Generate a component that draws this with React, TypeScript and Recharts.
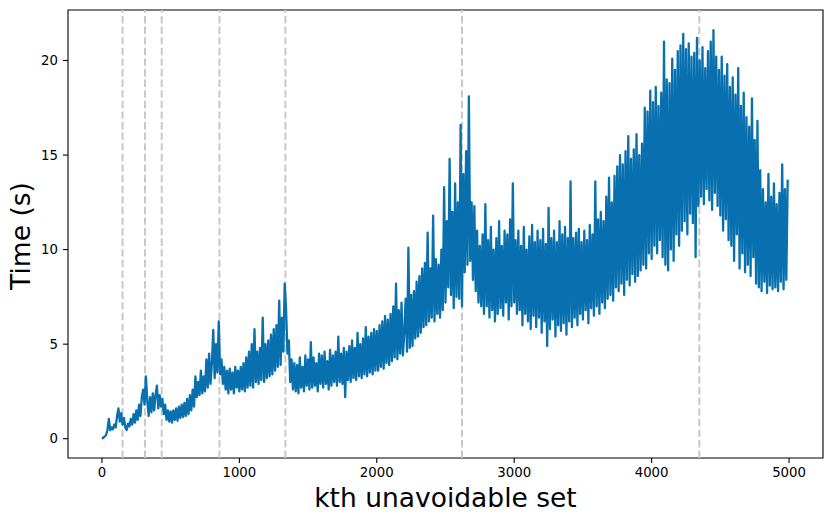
import { LineChart, Line, XAxis, YAxis, ReferenceLine, ReferenceArea } from "recharts";

// time (s) to find the kth unavoidable set, read every 10th k off the picture
const SAMPLE_STEP = 10;

const timesA = [
  0.0, 0.05, 0.12, 0.2, 0.45, 1.05, 0.45, 0.6, 0.5, 0.75,
  0.6, 1.2, 1.6, 0.9, 1.35, 0.75, 1.1, 0.6, 0.46, 0.8,
  0.65, 1.05, 0.75, 1.3, 0.85, 1.5, 1.0, 1.8, 1.2, 2.2,
  2.6, 1.8, 3.3, 2.0, 1.2, 2.2, 1.4, 2.4, 1.5, 2.3,
  2.8, 1.6, 2.3, 1.7, 2.1, 1.3, 1.8, 1.0, 1.5, 0.9,
  1.45, 0.85, 1.5, 1.0, 1.6, 0.95, 1.7, 1.1, 1.8, 1.15,
  1.9, 1.2, 2.1, 1.3, 2.3, 1.5, 2.6, 1.7, 3.3, 2.2,
  3.0, 2.3, 3.6, 2.4, 3.3, 2.5, 4.2, 2.7, 4.5, 2.9,
  4.0, 5.75, 3.2, 5.0, 3.5, 6.2, 3.4, 4.2, 2.9, 3.8,
  2.6, 3.6, 2.4, 3.7, 2.6, 3.5, 2.4, 3.8, 2.7, 3.6,
];

const timesB = [
  2.5, 3.8, 2.6, 4.0, 2.5, 4.3, 2.7, 4.6, 2.8, 5.0,
  2.7, 5.8, 3.0, 4.6, 2.9, 4.8, 3.1, 6.4, 3.0, 5.0,
  3.2, 5.2, 3.3, 5.5, 3.4, 5.8, 3.6, 6.0, 3.8, 7.3,
  3.9, 6.4, 4.6, 8.2, 6.8, 4.5, 5.2, 3.0, 4.2, 2.6,
  4.0, 2.5, 3.9, 2.4, 4.3, 2.7, 3.8, 2.5, 4.4, 2.8,
  4.2, 2.6, 5.1, 2.7, 4.3, 2.8, 4.0, 2.5, 4.5, 2.9,
  4.4, 2.7, 4.6, 2.9, 4.1, 2.6, 4.7, 2.8, 4.4, 3.0,
  4.6, 2.8, 5.4, 3.0, 4.5, 2.9, 4.8, 2.2, 4.6, 3.1,
  4.9, 3.0, 5.2, 3.2, 4.8, 3.1, 5.6, 3.3, 5.0, 3.2,
  5.3, 3.4, 5.9, 3.3, 5.4, 3.5, 5.6, 3.4, 5.8, 3.6,
];

const timesC = [
  5.7, 3.6, 6.0, 3.8, 6.2, 3.7, 6.5, 4.0, 6.3, 3.9,
  6.6, 4.1, 7.0, 4.3, 8.2, 4.2, 6.8, 4.5, 7.2, 4.4,
  5.6, 7.4, 4.6, 10.1, 4.8, 7.6, 4.9, 7.8, 5.3, 8.3,
  5.4, 8.6, 5.6, 9.0, 5.9, 9.3, 6.0, 10.9, 6.2, 9.0,
  6.4, 11.8, 6.2, 9.5, 6.6, 9.2, 6.4, 10.0, 6.8, 13.3,
  7.2, 11.5, 8.0, 14.8, 7.6, 12.0, 6.9, 13.5, 7.5, 12.5,
  7.4, 16.6, 7.0, 14.0, 8.8, 15.2, 9.2, 18.1, 9.4, 12.5,
  8.4, 12.3, 7.8, 11.0, 7.2, 10.2, 7.0, 10.8, 6.6, 12.4,
  7.0, 10.5, 6.4, 11.2, 6.8, 10.0, 6.2, 10.6, 6.6, 11.5,
  6.9, 10.2, 6.5, 11.0, 7.2, 10.8, 6.3, 11.6, 7.0, 13.5,
];

const timesD = [
  7.2, 10.5, 6.6, 11.0, 6.8, 10.2, 6.0, 11.2, 6.6, 10.0,
  6.2, 10.7, 5.8, 11.3, 6.5, 10.4, 5.9, 11.0, 6.4, 10.5,
  5.6, 11.1, 6.2, 10.3, 4.9, 12.2, 5.8, 10.6, 6.3, 11.0,
  5.4, 10.4, 6.0, 11.5, 5.7, 10.8, 6.1, 11.2, 5.5, 10.6,
  6.2, 13.6, 5.9, 10.6, 6.4, 10.9, 6.0, 11.1, 6.6, 10.4,
  6.3, 11.0, 6.8, 10.5, 6.1, 11.3, 6.9, 10.8, 6.5, 13.6,
  7.0, 11.6, 6.6, 12.0, 7.2, 11.5, 6.9, 12.8, 7.4, 13.8,
  7.6, 12.5, 7.3, 13.9, 8.0, 14.4, 7.8, 15.0, 8.2, 14.5,
  7.6, 15.2, 8.4, 16.0, 8.1, 14.8, 8.7, 15.3, 8.3, 16.1,
  8.6, 15.0, 8.9, 15.6, 9.2, 17.5, 9.0, 17.3, 9.8, 18.4,
];

const timesE = [
  9.5, 17.8, 10.2, 18.6, 9.8, 17.6, 10.5, 18.3, 9.6, 21.0,
  9.2, 19.0, 8.9, 18.8, 10.0, 20.1, 9.4, 19.5, 10.8, 20.5,
  10.2, 20.8, 11.0, 21.4, 11.5, 20.6, 10.8, 20.9, 11.9, 20.2,
  11.4, 20.4, 9.6, 21.2, 12.3, 20.0, 12.8, 20.7, 12.4, 19.6,
  13.2, 20.5, 12.6, 21.0, 12.1, 21.6, 13.0, 20.2, 12.3, 19.5,
  11.8, 20.2, 11.0, 19.2, 11.6, 19.8, 10.5, 18.6, 10.2, 19.1,
  9.4, 18.2, 10.8, 19.6, 9.0, 17.6, 9.8, 18.3, 8.8, 17.0,
  9.2, 16.5, 8.6, 18.0, 9.6, 15.8, 8.2, 16.8, 8.0, 14.2,
  7.8, 13.2, 8.3, 12.5, 7.7, 14.0, 8.1, 12.8, 7.9, 13.5,
  8.0, 12.4, 7.8, 13.0, 8.3, 14.5, 7.9, 13.2, 8.4, 13.7,
];

// k values marked with grey dashed lines
const markedSets = [150, 313, 435, 855, 1335, 2620, 4347];

const xTicks = [0, 1000, 2000, 3000, 4000, 5000];
const yTicks = [0, 5, 10, 15, 20];

const series = [...timesA, ...timesB, ...timesC, ...timesD, ...timesE].map((t, i) => ({
  k: i * SAMPLE_STEP,
  t,
}));

const FONT = "DejaVu Sans, sans-serif";
const X_DOMAIN: [number, number] = [-247, 5247];
const Y_DOMAIN: [number, number] = [-1.02, 22.67];

function XTick({ x, y, payload }: any) {
  return (
    <text x={x} y={y} dy="0.71em" textAnchor="middle" fontSize={13.3} fontFamily={FONT} fill="#000">
      {payload.value}
    </text>
  );
}

function YTick({ x, y, payload }: any) {
  return (
    <text x={x} y={y} dy="0.36em" textAnchor="end" fontSize={13.3} fontFamily={FONT} fill="#000">
      {payload.value}
    </text>
  );
}

export default function App() {
  return (
    <div style={{ position: "absolute", left: 0, top: 0, width: 831, height: 523, background: "#fff" }}>
      <LineChart width={831} height={523} data={series} margin={{ top: 10, right: 8, bottom: 0, left: 0 }}>
        <XAxis
          dataKey="k"
          type="number"
          domain={X_DOMAIN}
          ticks={xTicks}
          allowDataOverflow
          height={65}
          axisLine={false}
          tickSize={5}
          tickMargin={5}
          tickLine={{ stroke: "#000", strokeWidth: 1.1 }}
          tick={<XTick />}
        />
        <YAxis
          type="number"
          domain={Y_DOMAIN}
          ticks={yTicks}
          allowDataOverflow
          width={68}
          axisLine={false}
          tickSize={5}
          tickMargin={5}
          tickLine={{ stroke: "#000", strokeWidth: 1.1 }}
          tick={<YTick />}
        />
        {markedSets.map((k) => (
          <ReferenceLine key={k} x={k} stroke="#c8c8c8" strokeWidth={2} strokeDasharray="7.4 3.2" />
        ))}
        <Line
          type="linear"
          dataKey="t"
          stroke="#0870ae"
          strokeWidth={2.3}
          strokeLinejoin="round"
          dot={false}
          isAnimationActive={false}
        />
        <ReferenceArea
          x1={X_DOMAIN[0]}
          x2={X_DOMAIN[1]}
          y1={Y_DOMAIN[0]}
          y2={Y_DOMAIN[1]}
          fill="none"
          stroke="#000"
          strokeWidth={1.1}
          fillOpacity={0}
        />
      </LineChart>
      <svg
        width={831}
        height={523}
        style={{ position: "absolute", left: 0, top: 0, pointerEvents: "none" }}
      >
        <text x={445.5} y={506.5} textAnchor="middle" fontSize={26.5} fontFamily={FONT} fill="#000">
          kth unavoidable set
        </text>
        <text
          x={29.5}
          y={236}
          transform="rotate(-90 29.5 236)"
          textAnchor="middle"
          fontSize={26.5}
          fontFamily={FONT}
          fill="#000"
        >
          Time (s)
        </text>
      </svg>
    </div>
  );
}
